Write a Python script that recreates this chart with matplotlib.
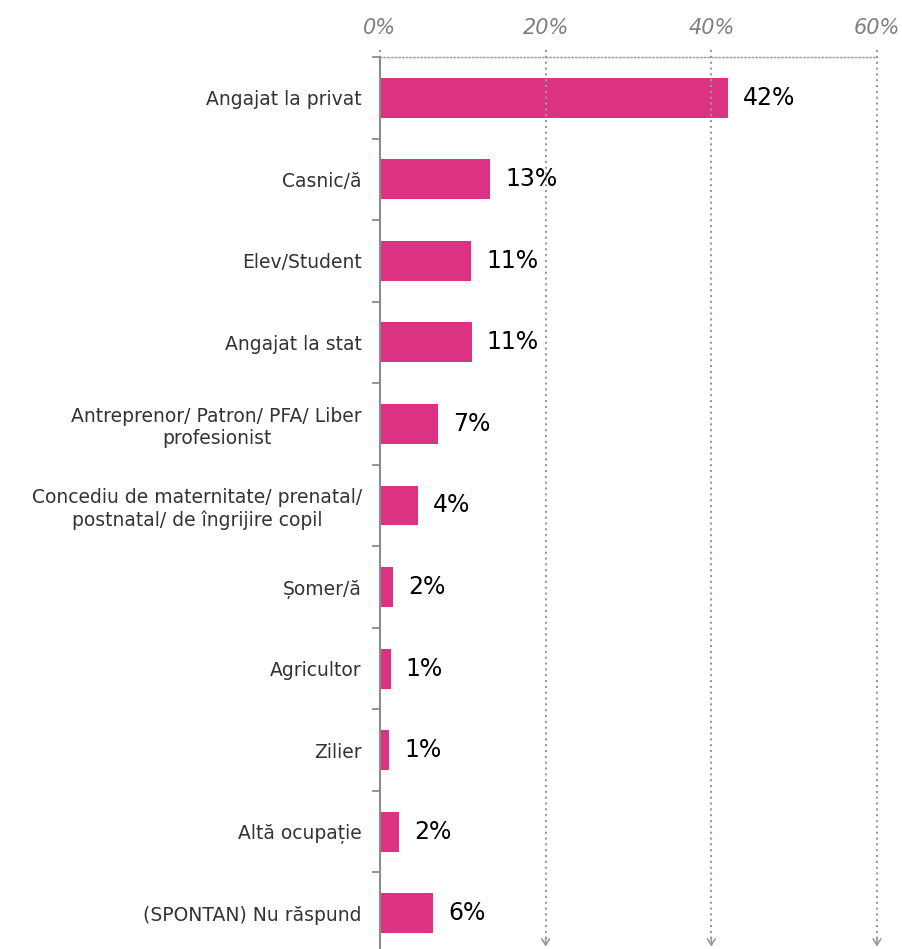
import matplotlib.pyplot as plt
import numpy as np

categories = [
    "Angajat la privat",
    "Casnic/ă",
    "Elev/Student",
    "Angajat la stat",
    "Antreprenor/ Patron/ PFA/ Liber\nprofesionist",
    "Concediu de maternitate/ prenatal/\npostnatal/ de îngrijire copil",
    "Șomer/ă",
    "Agricultor",
    "Zilier",
    "Altă ocupație",
    "(SPONTAN) Nu răspund",
]
values = [42.0, 13.3, 11.0, 11.1, 7.0, 4.6, 1.6, 1.3, 1.1, 2.3, 6.4]
value_labels = ["42%", "13%", "11%", "11%", "7%", "4%", "2%", "1%", "1%", "2%", "6%"]
x_ticks = [0, 20, 40, 60]
x_tick_labels = ["0%", "20%", "40%", "60%"]

bar_color = "#DC3284"
grid_color = "#9a9a9a"
dots = (0, (1, 1.8))

fig = plt.figure(figsize=(9.02, 9.49), dpi=100)
ax = fig.add_axes([380 / 902, -5 / 949, 497 / 902, 897 / 949])

y = np.arange(len(categories))
ax.barh(y, values, height=0.49, color=bar_color)
ax.set_xlim(0, 60)
ax.set_ylim(len(categories) - 0.5, -0.5)

for yi, v, lab in zip(y, values, value_labels):
    ax.text(v + 1.8, yi, lab, va="center", ha="left", fontsize=17, color="black")

# vertical dotted gridlines, with a small open arrow head at the bottom
for xv in x_ticks[1:]:
    ax.plot([xv, xv], [-0.59, 10.4], ls=dots, color=grid_color, lw=1.5, clip_on=False)
    ax.annotate("", xy=(xv, 10.41), xytext=(xv, 10.3),
                arrowprops=dict(arrowstyle="->,head_length=0.45,head_width=0.28",
                                color=grid_color, lw=1.2, shrinkA=0, shrinkB=0),
                annotation_clip=False)
ax.plot([0, 0], [-0.59, -0.5], ls=dots, color=grid_color, lw=1.5, clip_on=False)

# axes styling
for s in ["right", "bottom"]:
    ax.spines[s].set_visible(False)
ax.spines["top"].set_linestyle(":")
ax.spines["top"].set_color(grid_color)
ax.spines["top"].set_linewidth(1.0)
ax.spines["left"].set_color("#8c8c8c")
ax.spines["left"].set_linewidth(1.5)

ax.xaxis.tick_top()
ax.set_xticks(x_ticks)
ax.set_xticklabels(x_tick_labels, fontsize=15, style="italic", color="#808080")
ax.tick_params(axis="x", length=0, pad=14)

ax.set_yticks(y)
ax.set_yticklabels(categories, fontsize=13.5, color="#333333", multialignment="center")
ax.set_yticks(np.arange(-0.5, len(categories), 1), minor=True)
ax.tick_params(axis="y", which="major", length=0, pad=13)
ax.tick_params(axis="y", which="minor", length=6, width=1.3, color="#8c8c8c")

fig.savefig("out.png", dpi=100)
